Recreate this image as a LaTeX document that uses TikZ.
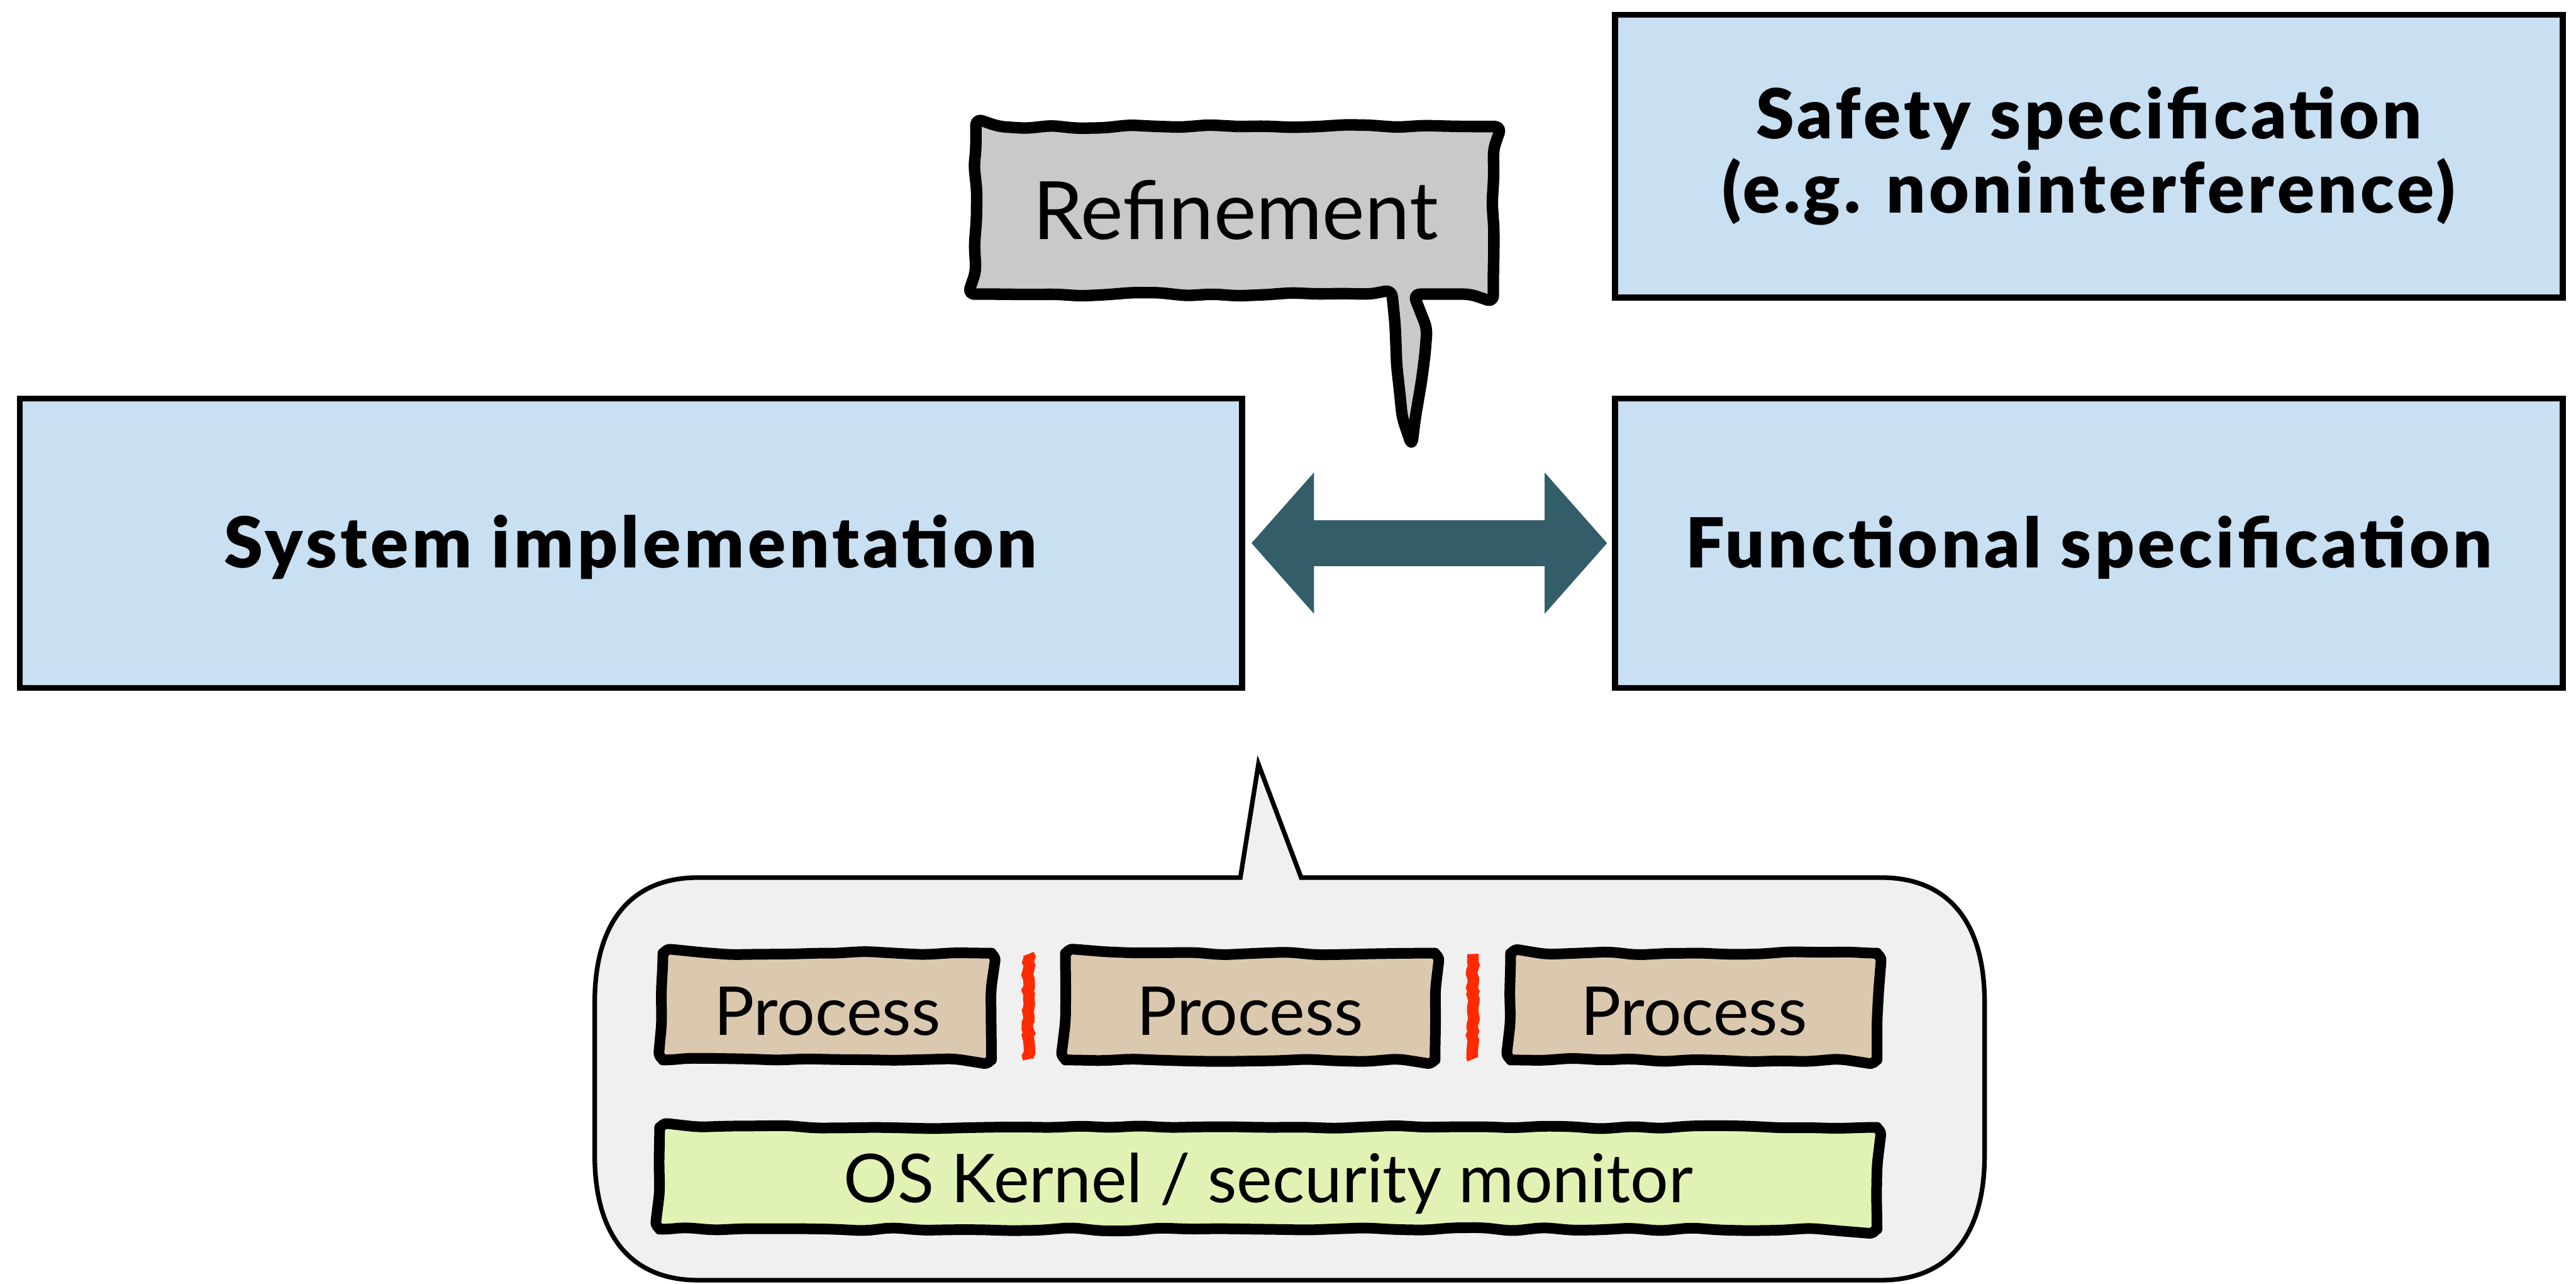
\documentclass[tikz,border=0pt]{standalone}
\usepackage{fontspec}
\setmainfont{Lato}
\newfontfamily\heavyfont{Lato Black}[LetterSpace=5]

\usetikzlibrary{decorations.pathmorphing,calc}

\definecolor{specblue}{RGB}{201,223,242}
\definecolor{refgray}{RGB}{201,201,201}
\definecolor{bubblegray}{RGB}{240,240,240}
\definecolor{procfill}{RGB}{219,201,175}
\definecolor{kernelfill}{RGB}{225,243,180}
\definecolor{arrowteal}{RGB}{52,93,106}
\definecolor{barrierred}{RGB}{255,42,0}

% hand-drawn frame around a node, started mid-edge so the seam is hidden
\newcommand\sketchframe[1]{%
  \draw[sketchline] (#1.north) -- (#1.north east) -- (#1.south east)
    -- (#1.south west) -- (#1.north west) -- cycle;}

\begin{document}
\begin{tikzpicture}[x=1pt,y=-1pt,
  specbox/.style={draw=black, line width=3.6pt, fill=specblue, inner sep=0pt,
    align=center, font=\heavyfont\fontsize{42}{45}\selectfont},
  sketchline/.style={draw=black, line width=6.5pt, line join=round, decorate,
    decoration={random steps, segment length=18pt, amplitude=1.1pt},
    rounded corners=5pt},
  procbox/.style={fill=procfill, inner sep=0pt, outer sep=0pt, minimum height=65pt,
    font=\fontsize{41}{48}\selectfont, text height=34.5pt, text depth=0pt},
  kernelbox/.style={fill=kernelfill, inner sep=0pt, outer sep=0pt, minimum height=62pt,
    font=\fontsize{41}{48}\selectfont, text height=29.4pt, text depth=0pt},
  barrier/.style={draw=barrierred, line width=7pt, decorate,
    decoration={random steps, segment length=2.5pt, amplitude=0.8pt}},
]
\pgfmathsetseed{7}
\useasboundingbox (0,0) rectangle (1568,781);

% specification and implementation boxes
\node[specbox, minimum width=577pt, minimum height=172pt] (safe) at (1271.5,95)
  {Safety specification\\(e.g. noninterference)};
\node[specbox, minimum width=744pt, minimum height=176pt, text height=30.1pt, text depth=0pt,
  font=\heavyfont\fontsize{42.8}{45}\selectfont]
  (sys) at (384,330.5) {System implementation};
\node[specbox, minimum width=577pt, minimum height=176pt, text height=30.1pt, text depth=0pt]
  (fun) at (1271.5,330.5) {Functional specification};

% double-headed refinement arrow between the two boxes
\coordinate (aL) at ($(sys.east)+(4,0)$);
\coordinate (aR) at ($(fun.west)+(-3,0)$);
\fill[arrowteal] (aL) -- ++(38,-43) -- ++(0,29) -- ($(aR)+(-38,-14)$) -- ++(0,-29)
  -- (aR) -- ++(-38,43) -- ++(0,-29) -- ($(aL)+(38,14)$) -- ++(0,29) -- cycle;

% "Refinement" speech bubble
\path[sketchline, line width=7pt, fill=refgray, rounded corners=4pt,
  decoration={random steps, segment length=16pt, amplitude=1.1pt}]
  (750,77) -- (899,77) .. controls (909,77) .. (909,87) -- (909,169)
  .. controls (909,179) .. (899,179) -- (880,179)
  .. controls (872,179) and (870,186) .. (869,196) -- (861,258)
  .. controls (860,266) and (855,266) .. (854,258) -- (849,196)
  .. controls (848,186) and (846,179) .. (838,179) -- (604,179)
  .. controls (594,179) .. (594,169) -- (594,87) .. controls (594,77) .. (604,77) -- cycle;
\node[font=\fontsize{49}{56}\selectfont, inner sep=0pt] (ref) at (752,128) {Refinement};

% bubble showing the inside of the implementation
\draw[line width=2.8pt, fill=bubblegray, line join=miter]
  (362,610) .. controls (362,560) and (385,534) .. (425,534) -- (755,534)
  -- (766,465) -- (792,534) -- (1145,534)
  .. controls (1185,534) and (1208,560) .. (1208,610) -- (1208,703)
  .. controls (1208,753) and (1185,779) .. (1145,779) -- (425,779)
  .. controls (385,779) and (362,753) .. (362,703) -- cycle;

\node[procbox, minimum width=200pt] (p1) at (503.5,612.5) {Process};
\node[procbox, minimum width=225pt] (p2) at (761,612.5) {Process};
\node[procbox, minimum width=223pt] (p3) at (1031,612.5) {Process};
\node[kernelbox, minimum width=741pt] (kern) at (772,717) {OS Kernel / security monitor};
\sketchframe{p1}
\sketchframe{p2}
\sketchframe{p3}
\sketchframe{kern}

% isolation barriers between processes
\draw[barrier] ($(p1.east)!0.5!(p2.west)$) ++(0,-32) -- ++(0,64);
\draw[barrier] ($(p2.east)!0.5!(p3.west)$) ++(0,-32) -- ++(0,64);
\end{tikzpicture}
\end{document}
